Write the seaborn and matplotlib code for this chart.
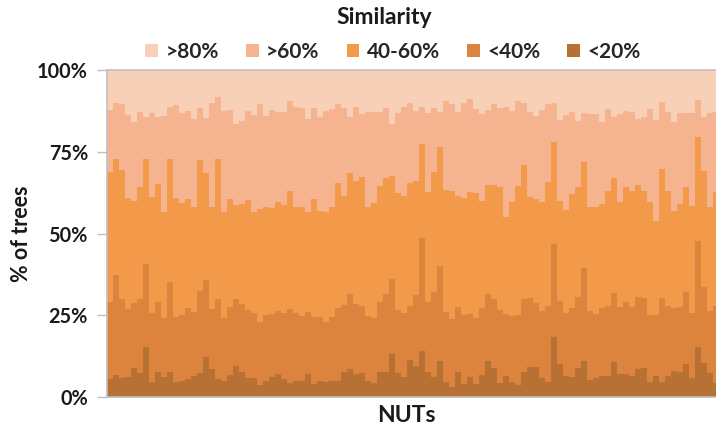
import matplotlib
matplotlib.use("Agg")
import matplotlib.pyplot as plt
import seaborn as sns
import numpy as np
import pandas as pd
from matplotlib.patches import Patch

# Cumulative tops (% of trees) of each similarity band, per NUT
top_lt20 = [5.5, 6.6, 5.7, 6.0, 9.0, 7.2, 15.4, 4.5, 7.7, 6.0, 7.7, 4.5, 4.9, 5.5, 6.4, 7.4, 12.2, 8.5, 5.4, 5.0,
            6.7, 9.4, 7.5, 5.7, 5.9, 3.7, 5.0, 6.0, 7.1, 5.5, 4.2, 5.0, 5.0, 6.9, 4.1, 5.0, 4.5, 4.8, 5.0, 7.6,
            8.6, 7.0, 7.2, 4.9, 4.4, 7.5, 7.5, 13.0, 7.2, 6.0, 11.3, 9.5, 14.2, 7.7, 6.0, 11.1, 4.5, 3.2, 7.5, 4.0,
            6.2, 4.0, 6.7, 11.0, 9.0, 4.2, 6.5, 4.5, 3.7, 7.7, 9.1, 9.1, 5.7, 4.7, 18.5, 10.1, 6.4, 6.0, 8.8, 11.0,
            5.2, 5.7, 6.5, 6.5, 10.8, 7.0, 7.0, 6.5, 8.5, 8.8, 4.7, 6.5, 4.7, 6.4, 8.1, 7.5, 10.1, 5.7, 15.2, 10.5,
            7.2, 4.4]
top_lt40 = [29.1, 37.3, 29.9, 26.8, 28.8, 30.1, 40.7, 25.6, 29.2, 24.3, 35.3, 24.6, 25.2, 27.1, 25.9, 32.5, 35.8, 26.8, 30.1, 24.1,
            27.4, 29.9, 28.3, 26.6, 25.6, 23.0, 25.1, 25.4, 26.4, 25.6, 26.8, 25.6, 24.8, 26.1, 24.6, 24.4, 22.8, 24.4, 27.1, 28.1,
            31.5, 28.4, 27.8, 24.8, 24.1, 29.0, 31.4, 36.0, 26.6, 25.6, 27.8, 31.1, 48.7, 29.0, 32.0, 40.2, 26.1, 23.8, 27.4, 25.1,
            25.4, 24.1, 27.1, 31.5, 30.1, 26.6, 25.3, 24.8, 25.1, 29.9, 30.4, 28.6, 26.3, 27.8, 46.7, 29.5, 25.6, 27.1, 30.7, 39.6,
            26.4, 25.4, 27.1, 27.9, 31.7, 27.6, 29.0, 27.4, 30.7, 30.2, 25.1, 25.1, 30.2, 27.9, 27.1, 27.4, 32.0, 25.8, 47.7, 33.7,
            26.4, 27.9]
top_mid = [68.9, 72.8, 69.4, 60.8, 60.0, 64.1, 72.7, 61.1, 65.1, 56.7, 72.7, 61.0, 59.4, 60.6, 58.2, 72.5, 68.4, 58.2, 72.8, 56.7,
           60.6, 58.6, 59.0, 60.2, 56.7, 57.5, 58.2, 57.9, 59.6, 58.7, 63.0, 58.2, 58.2, 56.7, 60.4, 57.0, 56.7, 58.2, 65.3, 61.6,
           68.6, 66.2, 67.4, 58.0, 59.2, 64.5, 66.9, 67.7, 62.5, 61.6, 65.3, 66.2, 77.4, 62.8, 68.7, 76.4, 63.3, 63.1, 61.6, 61.0,
           62.6, 62.3, 60.0, 64.8, 64.8, 64.3, 54.9, 59.5, 64.6, 70.9, 61.1, 60.4, 59.7, 65.9, 78.1, 60.0, 57.2, 62.1, 64.3, 71.8,
           58.0, 58.2, 59.0, 63.1, 66.9, 59.5, 64.3, 63.0, 64.8, 63.0, 59.5, 53.9, 69.7, 63.0, 57.0, 59.0, 64.3, 58.4, 79.4, 69.1,
           58.2, 62.8]
top_gt60 = [87.8, 89.8, 89.6, 86.2, 84.2, 87.1, 85.7, 86.7, 85.7, 85.9, 88.8, 89.3, 87.0, 87.5, 85.0, 88.3, 85.4, 90.0, 91.6, 87.6,
            87.8, 83.4, 84.5, 87.6, 86.2, 89.6, 86.0, 87.8, 87.1, 87.3, 90.5, 88.8, 88.3, 85.0, 88.3, 85.7, 87.6, 88.1, 89.6, 88.5,
            85.7, 88.8, 86.4, 87.3, 87.1, 87.1, 88.3, 83.4, 87.0, 88.8, 90.0, 87.6, 88.8, 86.7, 88.3, 87.3, 90.5, 89.6, 87.1, 89.8,
            91.1, 88.1, 86.4, 87.8, 89.6, 88.5, 88.8, 87.6, 90.5, 89.8, 87.1, 86.0, 87.9, 89.6, 90.0, 84.7, 86.2, 87.3, 84.4, 87.0,
            86.5, 86.5, 84.2, 88.0, 85.7, 86.5, 87.6, 87.3, 85.0, 85.5, 88.0, 84.7, 90.1, 87.1, 84.2, 86.7, 86.7, 87.0, 90.8, 85.7,
            86.7, 87.1]
top_gt80 = [100.0] * len(top_lt20)

labels = [">80%", ">60%", "40-60%", "<40%", "<20%"]
colors = ["#F8CFB7", "#F5B48F", "#F39A4A", "#DC843D", "#B77134"]
yticks = [0, 25, 50, 75, 100]
ytick_labels = ["0%", "25%", "50%", "75%", "100%"]

nuts = [f"N{i:03d}" for i in range(len(top_lt20))]
df = pd.DataFrame({"nut": nuts, ">80%": top_gt80, ">60%": top_gt60, "40-60%": top_mid,
                   "<40%": top_lt40, "<20%": top_lt20})

sns.set_theme(style="white")
plt.rcParams["font.family"] = ["Lato", "DejaVu Sans"]
plt.rcParams["font.weight"] = "bold"

fig = plt.figure(figsize=(7.16, 4.30), dpi=100)
ax = fig.add_axes([106.7 / 716, 33 / 430, 1 - 106.7 / 716, 327 / 430])

for lab, col in zip(labels, colors):
    sns.barplot(data=df, x="nut", y=lab, color=col, width=1.0, ax=ax,
                edgecolor="none", linewidth=0, saturation=1, zorder=2)

ax.set_xlim(-0.5, -0.5 + (716 - 106.7) / 6.006)
ax.set_ylim(0, 100)
ax.set_yticks(yticks)
ax.set_yticklabels(ytick_labels, fontsize=14.3, fontweight="bold", color="#1a1a1a")
ax.set_xticks([])
ax.set_xlabel("NUTs", fontsize=16.5, fontweight="bold", color="#1a1a1a")
ax.xaxis.set_label_coords((406 - 106.7) / 609.3, -18 / 327, transform=ax.transAxes)
ax.set_ylabel("% of trees", fontsize=15.5, fontweight="bold", color="#1a1a1a")
ax.yaxis.set_label_coords(-(106.7 - 22) / 609.3, 0.5, transform=ax.transAxes)
ax.xaxis.label.set_va("center")
ax.yaxis.label.set_va("center")
ax.tick_params(axis="y", which="both", left=True, length=7, width=1, color="#bfbfbf", pad=6.5)
for s in ["left", "bottom", "top"]:
    ax.spines[s].set_visible(True)
    ax.spines[s].set_color("#c0c0c0")
    ax.spines[s].set_linewidth(1.2)
ax.spines["right"].set_visible(False)
ax.grid(False)

fig.text(384 / 716, 1 - 18 / 430, "Similarity", ha="center", va="center",
         fontsize=16.5, fontweight="bold", color="#1a1a1a")
handles = [Patch(facecolor=c, edgecolor="none") for c in colors]
fig.legend(handles, labels, loc="center", bbox_to_anchor=(393 / 716, 1 - 52 / 430), ncol=5,
           frameon=False, prop={"size": 15, "weight": "bold"}, handlelength=0.62, handleheight=0.62,
           handletextpad=0.35, columnspacing=1.3, borderaxespad=0)

fig.savefig("out.png", dpi=100)
